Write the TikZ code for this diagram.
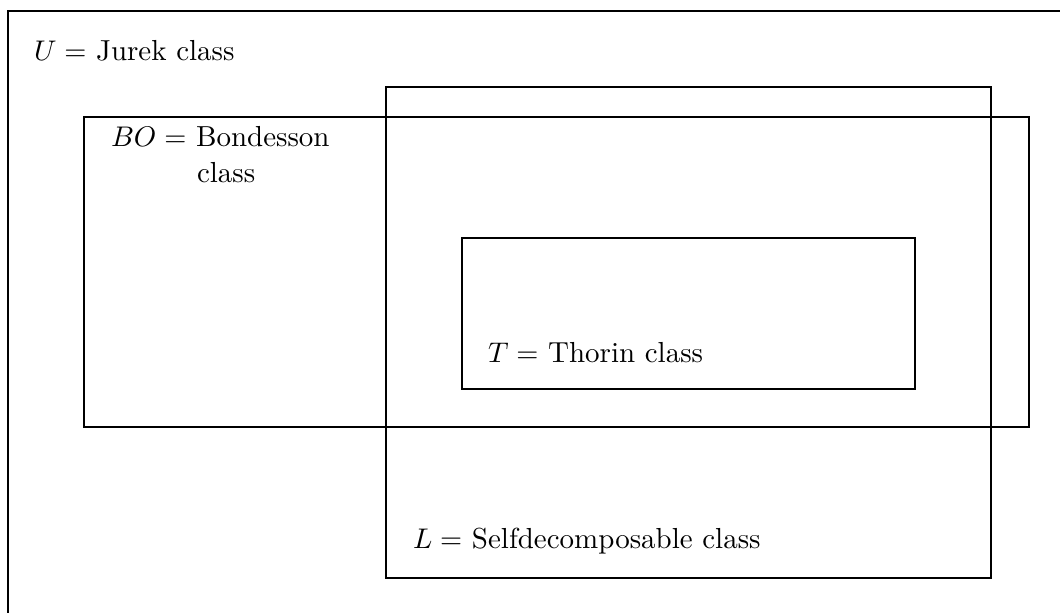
\documentclass[tikz,border=0pt]{standalone}
\begin{document}
\begin{tikzpicture}[x=0.352pt,y=-0.352pt,
  setbox/.style={draw=black,line width=0.9pt},
  lbl/.style={anchor=base west,inner sep=0pt,outer sep=0pt,font=\fontsize{10.2}{12.2}\selectfont}]
\useasboundingbox (0,0) rectangle (1060,613);
\clip (0,0) rectangle (1060,613);
\draw[setbox] (8,11) rectangle (1090,640);
\draw[setbox] (84,117) rectangle (1029,427);
\draw[setbox] (386,87) rectangle (991,578);
\draw[setbox] (462,238) rectangle (915,389);
\node[lbl] (u) at (34,61) {$U=$ Jurek class};
\node[lbl] (bo) at (111,147) {$BO=$ Bondesson};
\node[lbl] (bo2) at (197,183) {class};
\node[lbl] (t) at (488,363) {$T=$ Thorin class};
\node[lbl] (l) at (413,548) {$L=$ Selfdecomposable class};
\end{tikzpicture}
\end{document}
